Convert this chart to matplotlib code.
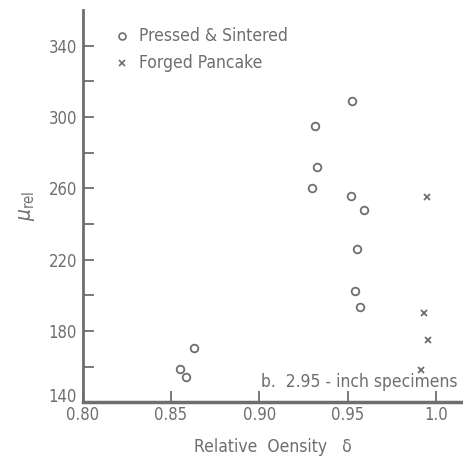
import matplotlib
matplotlib.use('Agg')
import matplotlib.pyplot as plt
import matplotlib.transforms as mtransforms

# Pressed & Sintered (circles)
ps_density = [0.855, 0.8587, 0.8628, 0.9524, 0.9316, 0.9328, 0.9296,
              0.9517, 0.9592, 0.9551, 0.9539, 0.9568]
ps_mu = [158.7, 154.2, 170.3, 309, 295, 272, 260, 255.5, 247.7, 226, 202.6, 193.4]

# Forged Pancake (crosses)
fp_density = [0.9949, 0.9933, 0.9954, 0.9913]
fp_mu = [255, 190, 175, 158.3]

x_ticks = [0.80, 0.85, 0.90, 0.95, 1.0]
x_tick_labels = ['0.80', '0.85', '0.90', '0.95', '1.0']
y_ticks = [140, 180, 220, 260, 300, 340]

gray = '#6e6e6e'
plt.rcParams['font.family'] = ['DejaVu Sans']
plt.rcParams['font.stretch'] = 'condensed'

fig = plt.figure(figsize=(4.64, 4.58), dpi=100)
ax = fig.add_axes([0.178, 0.1216, 0.822, 0.8565])

ax.plot(ps_density, ps_mu, linestyle='none', marker='o', markersize=5.5,
        markerfacecolor='none', markeredgecolor=gray, markeredgewidth=1.3)
ax.plot(fp_density, fp_mu, linestyle='none', marker='x', markersize=4.5,
        color=gray, markeredgewidth=1.3)

ax.set_xlim(0.80, 1.0158)
ax.set_ylim(140, 360)

ax.set_xticks(x_ticks)
ax.set_xticklabels(x_tick_labels)
ax.set_yticks(y_ticks)
ax.set_yticks(list(range(160, 360, 40)), minor=True)

for s in ['top', 'right']:
    ax.spines[s].set_visible(False)
ax.spines['left'].set_color(gray)
ax.spines['left'].set_linewidth(2)
ax.spines['bottom'].set_color(gray)
ax.spines['bottom'].set_linewidth(2.5)

ax.tick_params(axis='both', which='both', direction='in', color=gray,
               labelcolor=gray, labelsize=12, width=1.3)
ax.tick_params(axis='both', which='major', length=8)
ax.tick_params(axis='y', which='minor', length=8)
ax.tick_params(axis='x', pad=3)
ax.tick_params(axis='y', pad=4)

# nudge the lowest y label up so it clears "0.80"
lbl = ax.get_yticklabels()[0]
lbl.set_transform(lbl.get_transform() +
                  mtransforms.ScaledTranslation(0, 5 / 72, fig.dpi_scale_trans))

# legend drawn as text + markers
ax.plot([0.8222], [345.5], marker='o', markersize=5, markerfacecolor='none',
        markeredgecolor=gray, markeredgewidth=1.2, clip_on=False)
ax.plot([0.8222], [330.5], marker='x', markersize=4.5, color=gray,
        markeredgewidth=1.2, clip_on=False)
ax.text(0.832, 345.5, 'Pressed & Sintered', color=gray, fontsize=12.5,
        va='center', ha='left')
ax.text(0.832, 330.5, 'Forged Pancake', color=gray, fontsize=12.5,
        va='center', ha='left')

ax.text(0.901, 146.5, 'b.  2.95 - inch specimens', color=gray, fontsize=12.5,
        va='bottom', ha='left')

ax.set_xlabel('Relative  Oensity   δ', color=gray, fontsize=12.5, labelpad=10)
ax.set_ylabel(r'$\mu_{\rm rel}$', color=gray, fontsize=15, labelpad=8)

fig.savefig('out.png', dpi=100)
